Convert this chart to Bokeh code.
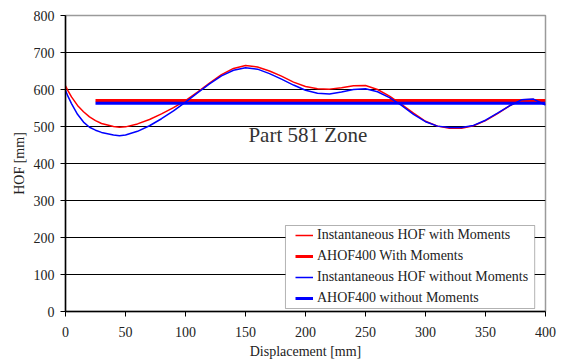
from bokeh.plotting import figure
from bokeh.models import Legend, LegendItem, Label, FixedTicker, BoxAnnotation
from bokeh.embed import file_html
from bokeh.resources import INLINE

# Data
disp = [0, 2, 5, 10, 15, 20, 25, 30, 40, 45, 50, 60, 70, 80, 90, 100, 110, 120, 130, 140,
        150, 160, 170, 180, 190, 200, 210, 220, 230, 240, 250, 260, 270, 280, 290, 300,
        310, 320, 330, 340, 350, 360, 370, 380, 390, 400]
hof_with = [610, 597, 580, 557, 540, 526, 516, 508, 500, 498, 499, 507, 519, 534, 551, 570,
            593, 617, 640, 657, 665, 661, 650, 636, 620, 608, 602, 601, 605, 610, 611, 600,
            582, 560, 536, 514, 501, 495, 495, 502, 516, 535, 556, 572, 573, 560]
hof_without = [598, 582, 562, 533, 512, 498, 490, 484, 477, 475, 477, 487, 502, 521, 542, 566,
               591, 615, 637, 652, 659, 655, 643, 628, 612, 598, 590, 588, 593, 600, 602, 594,
               578, 557, 533, 513, 501, 497, 497, 503, 517, 536, 556, 572, 574, 558]
ahof_x = [25, 400]
ahof_with = [570, 570]
ahof_without = [563, 563]
zone_label = "Part 581 Zone"
x_ticks = [0, 50, 100, 150, 200, 250, 300, 350, 400]
y_ticks = [0, 100, 200, 300, 400, 500, 600, 700, 800]

FONT = "Liberation Serif"

p = figure(width=565, height=363, frame_width=480, frame_height=296,
           x_range=(0, 400), y_range=(0, 800),
           output_backend="svg", toolbar_location=None,
           min_border_left=65, min_border_right=20, min_border_top=15, min_border_bottom=52)
p.background_fill_color = "white"
p.border_fill_color = "white"
p.outline_line_color = "#9a9a9a"
p.outline_line_width = 1.5

p.xgrid.grid_line_color = None
p.ygrid.ticker = FixedTicker(ticks=y_ticks)
p.ygrid.grid_line_color = "black"
p.ygrid.grid_line_width = 1

for ax in (p.xaxis[0], p.yaxis[0]):
    ax.axis_line_color = "black"
    ax.axis_line_width = 1.5
    ax.major_tick_line_color = "black"
    ax.major_tick_out = 5
    ax.major_tick_in = 0
    ax.minor_tick_line_color = None
    ax.major_label_text_font = FONT
    ax.major_label_text_font_size = "14px"
    ax.major_label_text_color = "#222222"
    ax.axis_label_text_font = FONT
    ax.axis_label_text_font_size = "14px"
    ax.axis_label_text_font_style = "normal"
    ax.axis_label_text_color = "#222222"

p.xaxis[0].ticker = FixedTicker(ticks=x_ticks)
p.yaxis[0].ticker = FixedTicker(ticks=y_ticks)
p.xaxis[0].axis_label = "Displacement [mm]"
p.yaxis[0].axis_label = "HOF [mm]"
p.xaxis[0].major_label_standoff = 10
p.yaxis[0].major_label_standoff = 6
p.xaxis[0].axis_label_standoff = 4
p.yaxis[0].axis_label_standoff = 4

r1 = p.line(disp, hof_with, line_color="#ff0000", line_width=1.5)
r2 = p.line(ahof_x, ahof_with, line_color="#ff0000", line_width=3)
r3 = p.line(disp, hof_without, line_color="#0000ff", line_width=1.5)
r4 = p.line(ahof_x, ahof_without, line_color="#0000ff", line_width=3)

p.add_layout(Label(x=202, y=476, text=zone_label, text_font=FONT, text_font_size="21px",
                   text_color="#333333", text_align="center", text_baseline="middle"))

# legend frame (wider than Bokeh's symmetric padding allows)
p.add_layout(BoxAnnotation(left=183.3, right=391.0, bottom=8.1, top=232.4,
                           fill_color="white", fill_alpha=1,
                           line_color="black", line_width=1, level="annotation"))

legend = Legend(items=[
    LegendItem(label="Instantaneous HOF with Moments", renderers=[r1]),
    LegendItem(label="AHOF400 With Moments", renderers=[r2]),
    LegendItem(label="Instantaneous HOF without Moments", renderers=[r3]),
    LegendItem(label="AHOF400 without Moments", renderers=[r4]),
], location=(230, 3))
legend.label_text_font = FONT
legend.label_text_font_size = "14px"
legend.label_text_color = "#222222"
legend.glyph_width = 18
legend.glyph_height = 20
legend.label_height = 20
legend.label_standoff = 4
legend.spacing = 1
legend.padding = 0
legend.margin = 0
legend.border_line_color = None
legend.background_fill_color = "white"
legend.background_fill_alpha = 0
p.add_layout(legend)

open("out.html", "w").write(file_html(p, INLINE))
